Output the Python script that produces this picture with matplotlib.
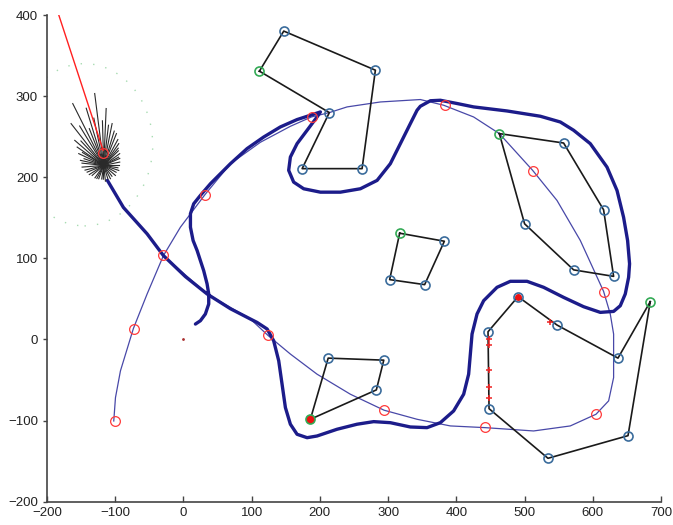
import matplotlib
matplotlib.use('Agg')
import matplotlib.pyplot as plt
from matplotlib.patches import Circle
import numpy as np

plt.rcParams['font.family'] = ['Liberation Sans', 'DejaVu Sans']

# robot trajectory (thick navy line)
traj_x = [17.6, 24.9, 32.2, 37.1, 37.1, 34.7, 29.7, 24.9, 20.1, 14.2, 10.3, 10.3, 15.1,
          24.9, 39.6, 68.9, 93.3, 117.7, 142.1, 166.6, 186.1, 200.8, 195.9, 181.3, 166.6,
          156.8, 154.3, 161.6, 176.3, 200.8, 230.1, 259.4, 283.9, 303.3, 318.0, 332.7,
          342.5, 347.3, 362.0, 376.6, 401.1, 425.4, 474.4, 523.2, 552.5, 572.0, 596.4,
          620.9, 635.6, 645.2, 651.1, 654.0, 652.6, 647.7, 640.4, 630.6, 611.1, 586.6,
          557.3, 528.0, 503.7, 479.2, 459.7, 440.1, 430.4, 423.1, 420.6, 418.1, 410.8,
          396.1, 376.6, 357.1, 332.6, 303.3, 278.9, 254.5, 225.2, 195.9, 181.3, 166.6,
          156.8, 149.5, 144.6, 139.7, 132.3, 122.7, 108.0, 98.2, 68.9, 34.7, 2.9, -29.3,
          -53.2, -87.9, -111.4]
traj_y = [19.0, 23.1, 31.4, 43.7, 56.1, 68.5, 84.9, 97.2, 109.6, 122.0, 138.4, 155.0, 167.3,
          177.6, 192.0, 216.7, 235.3, 249.6, 262.0, 271.1, 276.4, 280.5, 274.3, 257.9, 241.4,
          224.9, 208.5, 194.0, 185.8, 181.6, 181.6, 185.8, 196.1, 216.7, 241.4, 266.2,
          282.6, 287.5, 294.3, 294.9, 290.9, 286.7, 281.7, 275.2, 268.1, 257.9, 241.4,
          212.5, 183.7, 150.7, 122.0, 93.2, 76.6, 56.1, 41.6, 34.6, 33.4, 40.4,
          51.9, 64.3, 71.7, 71.7, 64.3, 47.8, 31.4, 6.7, -18.0, -42.8, -67.5,
          -88.1, -102.6, -108.7, -107.9, -102.6, -101.3, -104.5, -110.7, -119.0, -121.1, -116.9,
          -104.5, -84.0, -55.1, -26.3, -1.6, 12.9, 21.0, 25.2, 37.9, 56.1, 77.5, 103.4,
          130.2, 162.7, 196.1]

# planned path (thin blue line)
path_x = [-102.1, -99.6, -92.3, -73.3, -53.2, -29.3, -4.4, 31.8, 68.9, 112.8, 156.8,
          187.6, 213.9, 239.9, 288.7, 347.3, 381.4, 425.4, 463.1, 511.9, 547.6, 581.8,
          615.9, 625.7, 630.6, 630.6, 623.3, 604.8, 567.1, 513.3, 442.1, 391.3, 342.5,
          294.1, 244.7, 195.9, 156.8, 124.1, 98.2, 34.7, -29.3, -53.2, -87.9, -111.4]
path_y = [-100.5, -71.7, -38.7, 13.6, 56.1, 103.4, 138.4, 178.8, 216.7, 243.1, 262.8,
          274.3, 279.7, 286.7, 292.8, 295.8, 288.8, 274.3, 253.8, 208.5, 171.4, 122.0,
          59.3, 31.4, 6.7, -47.0, -75.7, -92.2, -106.6, -112.8, -108.7, -106.6, -98.4,
          -87.2, -67.5, -42.8, -18.0, 4.9, 25.2, 56.1, 103.4, 130.2, 162.7, 196.1]

# waypoints (red circles)
wp_x = [-118, -101, -73, -30, 32, 188, 383, 512, 616, 605, 442, 294, 124]
wp_y = [230, -100, 13.5, 104, 178, 274, 289, 208, 59, -92, -108.5, -87, 5]

# obstacles: vertices in drawing order, first vertex is the green one
obstacles = [
    ([111.4, 147.1, 281.4, 261.9, 174.0, 213.9], [330.8, 380.2, 332.0, 210.6, 210.6, 279.7]),
    ([317.0, 382.5, 353.6, 302.3], [131.0, 121.1, 67.6, 73.8]),
    ([463.1, 557.3, 615.9, 630.6, 572.0, 500.1], [253.8, 242.2, 159.9, 77.8, 85.8, 142.6]),
    ([186.1, 212.2, 293.7, 282.8], [-98.4, -23.0, -25.5, -62.2]),
    ([684.3, 651.7, 534.4, 448.0, 446.5, 490.5, 547.6, 637.0],
     [46.6, -118.6, -146.5, -85.3, 9.5, 52.8, 17.8, -23.0]),
]

# sensor hits (red marks) and marked vertices
hit_x = [448.4, 448.4, 448.4, 448.4, 448.4, 537.8]
hit_y = [0.9, -7.0, -37.8, -58.4, -71.7, 21.0]
mark_x = [186.1, 490.5]
mark_y = [-98.4, 52.8]
mark_size = [5.5, 4]

# range-sensor fan at the robot
fan_cx, fan_cy = -116.8, 214.6
fan_ang = [144, 138, 132.9, 126, 120.8, 115, 110, 104, 98.5, 92, 87.1, 82, 76.6, 70, 64.6,
           57, 50.6, 45, 40, 31.8, 25, 20, 9.9, 0, -8, -15.7, -25, -35.9, -48, -59.1, -70,
           -82.7, -92, -100, -114, -122, -130, -143.9, -152, -161.1, -168, -176.2, 175,
           169.7, 164, 158.4, 153, 149.9]
fan_len = [52.5, 45, 70.3, 60, 88.7, 50, 75, 60, 89.6, 55, 70.2, 50, 53, 45, 43.4,
           38, 34.7, 30, 28, 27.5, 24, 25, 23.8, 22, 21, 22.9, 20, 21.1, 18, 19.1, 18,
           19.6, 17, 17, 18, 19, 20, 21, 24, 25.7, 28, 31.8, 32,
           34.7, 30, 39.4, 35, 45]

heading_x = [-182.7, -117.7]
heading_y = [400, 233.2]

fig = plt.figure(figsize=(6.73, 5.25), dpi=100)
ax = fig.add_axes([0.0698, 0.0444, 0.9123, 0.927])

ax.add_patch(Circle((-145, 240), 100, fill=False, ls=(0, (1, 8)), lw=1.0,
                    ec='#a8dcb2', zorder=1))

for a, l in zip(fan_ang, fan_len):
    t = np.deg2rad(a)
    ax.plot([fan_cx, fan_cx + l*np.cos(t)], [fan_cy, fan_cy + l*np.sin(t)],
            color='#2a2a2a', lw=0.8, zorder=3)

ax.plot(path_x, path_y, color='#4848a8', lw=0.9, zorder=2)
ax.plot(traj_x, traj_y, color='#1c1c8a', lw=2.4, solid_capstyle='round',
        solid_joinstyle='round', zorder=2)

for (xs, ys) in obstacles:
    ax.plot(xs + xs[:1], ys + ys[:1], color='#1a1a1a', lw=1.2, zorder=4)

for mx, my, ms in zip(mark_x, mark_y, mark_size):
    ax.plot([mx], [my], 'o', ms=ms, color='#ee1111', zorder=5)

for (xs, ys) in obstacles:
    ax.plot(xs[1:], ys[1:], 'o', ms=6.5, mfc='none', mec='#3a6c9c', mew=1.2, zorder=6)
    ax.plot(xs[:1], ys[:1], 'o', ms=6.5, mfc='none', mec='#33aa55', mew=1.2, zorder=6)

ax.plot(hit_x, hit_y, '+', ms=4.5, mew=1.1, color='#ee2222', zorder=6)

ax.plot(wp_x, wp_y, 'o', ms=7, mfc='none', mec='#ff3a3a', mew=0.9, zorder=7)
ax.plot(heading_x, heading_y, color='#ff2020', lw=1.0, zorder=7)
ax.plot([0], [0], '.', ms=2, color='#aa3030', zorder=7)

ax.set_xlim(-200, 700)
ax.set_ylim(-200, 400)
ax.set_xticks(np.arange(-200, 701, 100))
ax.set_yticks(np.arange(-200, 401, 100))
for s in ['top', 'right']:
    ax.spines[s].set_visible(False)
for s in ['left', 'bottom']:
    ax.spines[s].set_color('#444444')
    ax.spines[s].set_linewidth(1.2)
ax.tick_params(axis='x', direction='in', length=4, width=1, colors='#444444',
               labelcolor='#222222', labelsize=9.5)
ax.tick_params(axis='y', direction='out', length=3, width=1, colors='#444444',
               labelcolor='#222222', labelsize=9.5)

fig.savefig('out.png', dpi=100)
